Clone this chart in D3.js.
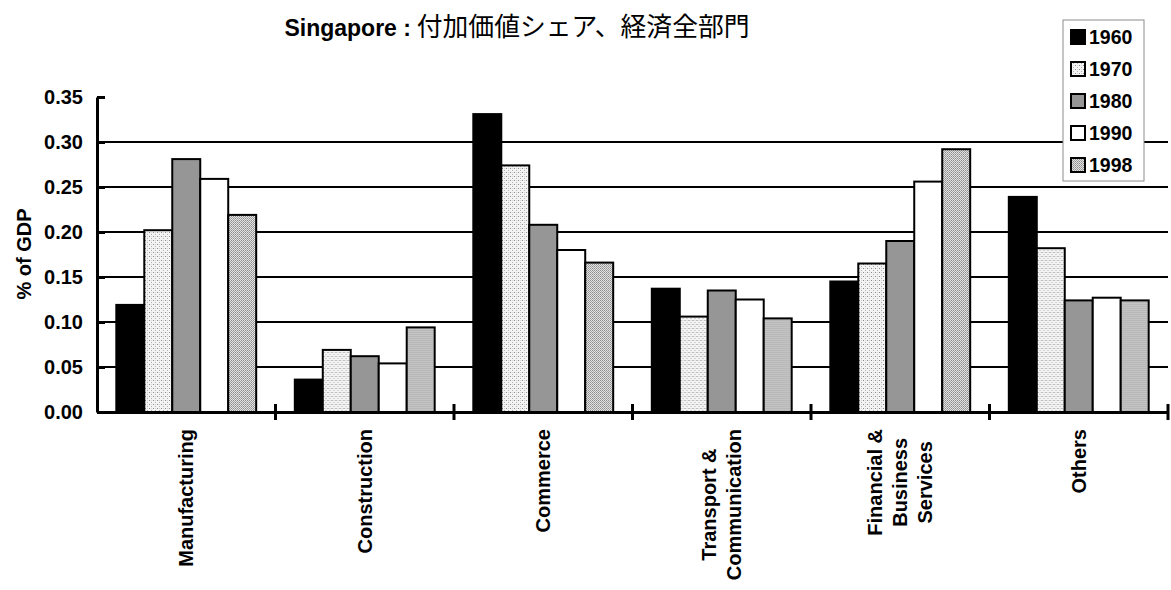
<!DOCTYPE html>
<html>
<head>
<meta charset="utf-8">
<script src="https://cdn.jsdelivr.net/npm/d3@7"></script>
<style>
  html, body { margin: 0; padding: 0; background: #ffffff; }
  svg { display: block; }
</style>
</head>
<body>
<svg id="chart" width="1171" height="590"></svg>
<script>
// Sector shares of value added (% of GDP), Singapore
const categories = ["Manufacturing", "Construction", "Commerce", "Transport & Communication", "Financial & Business Services", "Others"];
const categoryLines = [["Manufacturing"], ["Construction"], ["Commerce"], ["Transport &", "Communication"], ["Financial &", "Business", "Services"], ["Others"]];
const years = ["1960", "1970", "1980", "1990", "1998"];
const v1960 = [0.119, 0.036, 0.331, 0.137, 0.145, 0.239];
const v1970 = [0.202, 0.069, 0.274, 0.106, 0.165, 0.182];
const v1980 = [0.281, 0.062, 0.208, 0.135, 0.190, 0.124];
const v1990 = [0.259, 0.054, 0.180, 0.125, 0.256, 0.127];
const v1998 = [0.219, 0.094, 0.166, 0.104, 0.292, 0.124];
const yTicks = [0, 0.05, 0.10, 0.15, 0.20, 0.25, 0.30, 0.35];

const seriesValues = [v1960, v1970, v1980, v1990, v1998];
const rows = categories.map((c, i) => ({
  category: c,
  values: years.map((y, j) => ({ year: y, value: seriesValues[j][i] }))
}));

const svg = d3.select("#chart");
const FONT = "'Liberation Sans', Arial, Helvetica, sans-serif";

// fills: solid black, light dotted, mid grey, white, dense stipple
const defs = svg.append("defs");
const pLight = defs.append("pattern").attr("id", "dotsLight")
  .attr("width", 4).attr("height", 4).attr("patternUnits", "userSpaceOnUse");
pLight.append("rect").attr("width", 4).attr("height", 4).attr("fill", "#f4f4f4");
pLight.append("rect").attr("x", 0).attr("y", 0).attr("width", 1).attr("height", 1).attr("fill", "#8a8a8a");
pLight.append("rect").attr("x", 2).attr("y", 2).attr("width", 1).attr("height", 1).attr("fill", "#b0b0b0");
pLight.append("rect").attr("x", 2).attr("y", 0).attr("width", 1).attr("height", 1).attr("fill", "#d6d6d6");

const pDense = defs.append("pattern").attr("id", "dotsDense")
  .attr("width", 2).attr("height", 2).attr("patternUnits", "userSpaceOnUse");
pDense.append("rect").attr("width", 2).attr("height", 2).attr("fill", "#e2e2e2");
pDense.append("rect").attr("x", 0).attr("y", 0).attr("width", 1).attr("height", 1).attr("fill", "#8e8e8e");
pDense.append("rect").attr("x", 1).attr("y", 1).attr("width", 1).attr("height", 1).attr("fill", "#a4a4a4");

const fills = {
  "1960": "#000000",
  "1970": "url(#dotsLight)",
  "1980": "#969696",
  "1990": "#ffffff",
  "1998": "url(#dotsDense)"
};

// scales
const x = d3.scaleBand().domain(categories).range([97, 1168]).paddingInner(0).paddingOuter(0);
const xSub = d3.scaleBand().domain(years).range([0, x.bandwidth()]).paddingInner(0).paddingOuter(0.69);
const y = d3.scaleLinear().domain([0, 0.35]).range([412, 97]);

// horizontal gridlines
svg.append("g")
  .selectAll("line")
  .data(yTicks.filter(t => t > 0 && t < 0.35))
  .join("line")
  .attr("x1", x.range()[0]).attr("x2", x.range()[1])
  .attr("y1", d => y(d)).attr("y2", d => y(d))
  .attr("stroke", "#000").attr("stroke-width", 2);

// bars
const groups = svg.append("g")
  .selectAll("g")
  .data(rows)
  .join("g")
  .attr("transform", d => `translate(${x(d.category)},0)`);

groups.selectAll("rect")
  .data(d => d.values)
  .join("rect")
  .attr("x", d => xSub(d.year))
  .attr("y", d => y(d.value))
  .attr("width", xSub.bandwidth())
  .attr("height", d => y(0) - y(d.value))
  .attr("fill", d => fills[d.year])
  .attr("stroke", "#000")
  .attr("stroke-width", 2);

// y axis with inward ticks
const yAxis = svg.append("g")
  .attr("transform", `translate(${x.range()[0]},0)`)
  .call(d3.axisLeft(y).tickValues(yTicks).tickFormat(d3.format(".2f"))
    .tickSizeInner(-8).tickSizeOuter(0).tickPadding(14));
yAxis.select(".domain").attr("stroke", "#000").attr("stroke-width", 3);
yAxis.selectAll(".tick line").attr("stroke", "#000").attr("stroke-width", 3);
yAxis.selectAll(".tick text")
  .attr("font-family", FONT).attr("font-size", 20).attr("font-weight", "bold").attr("fill", "#000");

// x axis line with boundary ticks
const xAxis = svg.append("g")
  .attr("transform", `translate(0,${y(0)})`)
  .call(d3.axisBottom(x).tickSize(0).tickFormat(""));
xAxis.select(".domain").attr("stroke", "#000").attr("stroke-width", 3);
xAxis.selectAll(".tick").remove();
xAxis.selectAll("line.boundary")
  .data(categories)
  .join("line")
  .attr("class", "boundary")
  .attr("x1", d => x(d) + x.bandwidth()).attr("x2", d => x(d) + x.bandwidth())
  .attr("y1", -8).attr("y2", 8)
  .attr("stroke", "#000").attr("stroke-width", 3);

// rotated category labels, top aligned, lines centred on each other
const labelTop = 429;
const lineGap = 25;
categories.forEach((c, i) => {
  const lines = categoryLines[i];
  const g = svg.append("g")
    .attr("transform", `translate(${x(c) + x.bandwidth() / 2},${labelTop}) rotate(-90)`);
  const texts = g.selectAll("text")
    .data(lines)
    .join("text")
    .attr("font-family", FONT).attr("font-size", 20).attr("font-weight", "bold")
    .attr("fill", "#000")
    .attr("text-anchor", "middle")
    .attr("y", (d, k) => (k - (lines.length - 1) / 2) * lineGap)
    .attr("dy", "0.35em")
    .text(d => d);
  let maxLen = 0;
  texts.each(function () { maxLen = Math.max(maxLen, this.getComputedTextLength()); });
  texts.attr("x", -maxLen / 2);
});

// y axis title
svg.append("text")
  .attr("transform", "translate(24,254) rotate(-90)")
  .attr("text-anchor", "middle")
  .attr("dy", "0.35em")
  .attr("font-family", FONT).attr("font-size", 20).attr("font-weight", "bold")
  .attr("fill", "#000")
  .text("% of GDP");

// title
const title = svg.append("text")
  .attr("x", 517).attr("y", 36)
  .attr("text-anchor", "middle")
  .attr("fill", "#000");
title.append("tspan")
  .attr("font-family", FONT).attr("font-size", 23).attr("font-weight", "bold")
  .text("Singapore :");
title.append("tspan")
  .attr("font-family", "'Noto Sans CJK JP', 'Noto Sans CJK SC', sans-serif")
  .attr("font-size", 25.8).attr("font-weight", "normal")
  .text(" 付加価値シェア、経済全部門");

// legend
const legend = svg.append("g").attr("transform", "translate(1063,20)");
legend.append("rect")
  .attr("x", 0).attr("y", 0).attr("width", 81).attr("height", 161)
  .attr("fill", "#fff").attr("stroke", "#8c8c8c").attr("stroke-width", 1);
const items = legend.selectAll("g.item")
  .data(years)
  .join("g")
  .attr("class", "item")
  .attr("transform", (d, i) => `translate(0,${17 + i * 32})`);
items.append("rect")
  .attr("x", 8).attr("y", -7).attr("width", 14).attr("height", 14)
  .attr("fill", d => fills[d]).attr("stroke", "#000").attr("stroke-width", 2);
items.append("text")
  .attr("x", 26).attr("dy", "0.35em")
  .attr("font-family", FONT).attr("font-size", 19.5).attr("font-weight", "bold")
  .attr("fill", "#000")
  .text(d => d);
</script>
</body>
</html>
